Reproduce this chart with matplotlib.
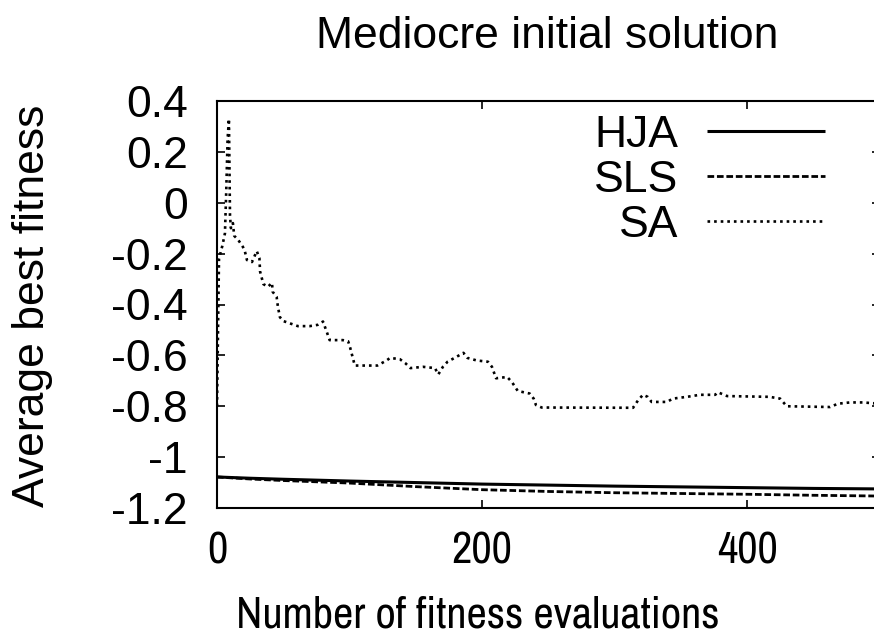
import matplotlib
matplotlib.use("Agg")
import matplotlib.pyplot as plt

# average best fitness per number of evaluations
evals = [0, 25, 50, 100, 150, 200, 250, 300, 350, 400, 450, 500]
hja = [-1.078, -1.083, -1.087, -1.094, -1.100, -1.106, -1.110, -1.114, -1.117, -1.120, -1.123, -1.125]
sls = [-1.078, -1.086, -1.092, -1.102, -1.116, -1.128, -1.135, -1.140, -1.143, -1.146, -1.150, -1.153]

sa_evals = [0, 1.5, 4, 6, 7, 8, 9, 9.8, 10.5, 12, 13, 16, 19.6, 21, 22.6, 26.4, 30, 32, 32.5,
            34, 35, 38.5, 41.5, 42, 45, 46, 47.5, 50, 61, 70, 76, 80, 83, 85, 95, 99, 100.5,
            104, 121, 128, 130.6, 138, 142, 146, 155.5, 164.5, 167, 170.5, 174, 181, 186,
            189, 196, 204.5, 207.5, 210.6, 219, 222.6, 227, 236, 239, 240.7, 245, 314, 318,
            321.5, 325, 328, 339.6, 344, 354.7, 364.5, 376, 378, 385, 417, 425, 430, 462.6,
            468.7, 477.7, 487.5, 500]
sa = [-0.80, -0.22, -0.17, -0.12, 0.05, 0.25, 0.33, -0.05, -0.10, -0.08, -0.13, -0.146,
      -0.174, -0.19, -0.225, -0.233, -0.19, -0.217, -0.27, -0.30, -0.32, -0.33, -0.315,
      -0.35, -0.37, -0.41, -0.45, -0.465, -0.485, -0.485, -0.48, -0.467, -0.51, -0.54,
      -0.54, -0.545, -0.57, -0.64, -0.64, -0.62, -0.61, -0.615, -0.63, -0.65, -0.645,
      -0.65, -0.675, -0.645, -0.625, -0.605, -0.59, -0.61, -0.62, -0.625, -0.645, -0.69,
      -0.685, -0.705, -0.74, -0.75, -0.77, -0.795, -0.805, -0.806, -0.775, -0.755, -0.763,
      -0.783, -0.783, -0.77, -0.763, -0.755, -0.755, -0.745, -0.76, -0.763, -0.77, -0.80,
      -0.803, -0.79, -0.785, -0.785, -0.79]

x_ticks = [0, 200, 400]
y_ticks = [0.4, 0.2, 0, -0.2, -0.4, -0.6, -0.8, -1, -1.2]
y_tick_labels = ["0.4", "0.2", "0", "-0.2", "-0.4", "-0.6", "-0.8", "-1", "-1.2"]

W, H = 874, 641
plt.rcParams['font.family'] = ['Liberation Sans', 'DejaVu Sans']
fs = 32
# the x axis texts are set in a narrow grotesque
narrow = ['Archivo Narrow', 'Liberation Sans', 'DejaVu Sans']

fig = plt.figure(figsize=(W / 100, H / 100), dpi=100)
ax = fig.add_axes([217 / W, 1 - 508 / H, (879.5 - 217) / W, (508 - 101) / H])

ax.plot(evals, hja, color='black', lw=2.2, solid_capstyle='butt', label='HJA')
ax.plot(evals, sls, color='black', lw=2.0, dashes=(2.4, 1.0), label='SLS')
ax.plot(sa_evals, sa, color='black', lw=1.9, dashes=(1.0, 1.5), label='SA')

ax.set_xlim(0, 500)
ax.set_ylim(-1.2, 0.4)
ax.set_xticks(x_ticks)
ax.set_xticklabels([str(t) for t in x_ticks], family=narrow)
ax.set_yticks(y_ticks)
ax.set_yticklabels(y_tick_labels)
ax.tick_params(direction='in', length=6, width=1.2, top=True, right=True, labelsize=fs)
ax.tick_params(axis='y', pad=21)
ax.tick_params(axis='x', pad=17)
for s in ax.spines.values():
    s.set_linewidth(1.5)

leg = ax.legend(loc='upper right', bbox_to_anchor=(825 / W, 1 - 115 / H),
                bbox_transform=fig.transFigure, frameon=False, markerfirst=False,
                fontsize=fs, handlelength=2.66, handletextpad=0.65,
                labelspacing=0.09, borderpad=0, borderaxespad=0)

fig.text(547 / W, 1 - 48 / H, 'Mediocre initial solution', fontsize=fs,
         ha='center', va='baseline')
fig.text(478 / W, 1 - 627 / H, 'Number of fitness evaluations', fontsize=fs,
         ha='center', va='baseline', family=narrow)
fig.text(44 / W, 1 - 305.5 / H, 'Average best fitness', fontsize=fs, rotation=90,
         rotation_mode='anchor', ha='center', va='baseline')

fig.savefig('out.png', dpi=100)
